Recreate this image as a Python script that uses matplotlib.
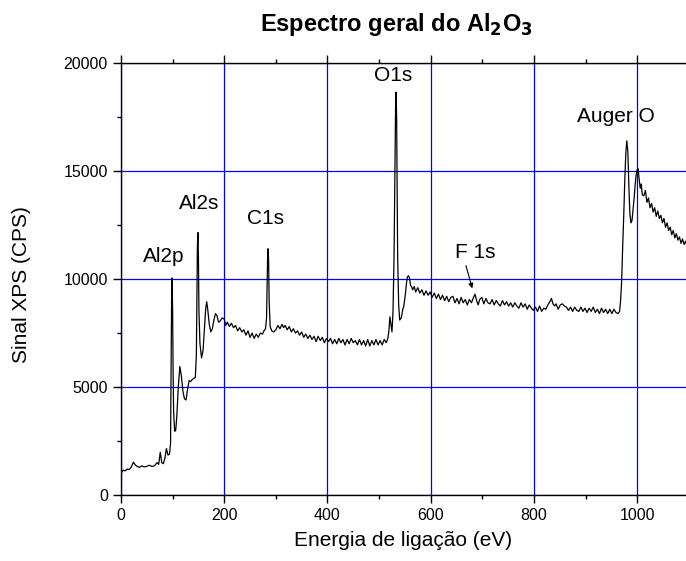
import matplotlib
matplotlib.use("Agg")
import matplotlib.pyplot as plt
from matplotlib.ticker import MultipleLocator

plt.rcParams['font.family'] = ['Liberation Sans', 'DejaVu Sans']

# Espectro XPS (energia em eV, sinal em CPS)
energia = [
    0, 4, 8, 12, 16, 20, 24, 28, 32, 36, 40, 45, 50, 55, 60, 65, 70, 73, 76, 79,
    82, 85, 88, 91, 94, 96, 97, 98, 99, 100, 101, 102, 104, 106, 108, 111, 114, 117, 120, 123,
    126, 129, 132, 135, 138, 141, 144, 146, 147, 148, 149, 150, 151, 153, 156, 159, 162, 164, 166, 168,
    171, 174, 177, 180, 183, 186, 189, 192, 196, 200, 203, 206, 210, 214, 218, 222, 226, 230, 234, 238,
    242, 246, 250, 254, 258, 262, 266, 270, 274, 277, 280, 282, 283, 284, 285, 286, 287, 289, 292, 296,
    300, 304, 308, 312, 315, 318, 322, 326, 330, 334, 338, 342, 346, 350, 354, 358, 362, 366, 370, 374,
    378, 382, 386, 390, 394, 398, 402, 406, 410, 414, 418, 422, 426, 430, 434, 438, 442, 446, 450, 454,
    458, 462, 466, 470, 474, 478, 482, 486, 490, 494, 498, 502, 506, 510, 514, 517, 519, 521, 523, 525,
    527, 529, 531, 532, 533, 534, 535, 536, 538, 540, 543, 546, 548, 551, 553, 555, 557, 559, 561, 563,
    565, 568, 571, 575, 579, 583, 587, 591, 595, 599, 603, 607, 611, 615, 619, 623, 627, 631, 635, 639,
    643, 647, 651, 655, 659, 663, 667, 671, 675, 679, 683, 686, 689, 692, 695, 699, 703, 707, 711, 715,
    719, 723, 727, 731, 735, 739, 743, 747, 751, 755, 759, 763, 767, 771, 775, 779, 783, 787, 791, 795,
    799, 803, 807, 811, 815, 819, 823, 827, 831, 834, 837, 840, 843, 847, 851, 855, 859, 863, 867, 871,
    875, 879, 883, 887, 891, 895, 899, 903, 907, 911, 915, 919, 923, 927, 931, 935, 939, 943, 947, 951,
    955, 959, 963, 966, 968, 970, 972, 974, 976, 978, 980, 982, 984, 986, 988, 990, 992, 994, 996, 998,
    1000, 1002, 1004, 1006, 1008, 1010, 1013, 1016, 1019, 1022, 1025, 1028, 1031, 1034, 1037, 1040, 1043, 1046, 1049, 1052,
    1055, 1058, 1061, 1064, 1067, 1070, 1073, 1076, 1079, 1082, 1085, 1088, 1091, 1094, 1097, 1100,
]
sinal = [
    1000, 1150, 1120, 1200, 1180, 1300, 1520, 1380, 1320, 1280, 1350, 1300, 1330, 1380, 1320, 1360, 1500, 1420, 1980, 1500,
    1450, 1700, 2150, 1850, 1900, 2400, 5500, 9000, 10050, 8500, 5500, 3800, 2950, 3000, 3600, 5000, 5950, 5500, 4800, 4450,
    4400, 4900, 5300, 5250, 5350, 5400, 5450, 6500, 9000, 11500, 12150, 11000, 8500, 7000, 6350, 6700, 7800, 8600, 8950, 8600,
    7900, 7550, 7700, 8100, 8400, 8300, 8000, 8050, 8200, 8150, 7850, 8000, 7800, 7950, 7750, 7850, 7600, 7750, 7550, 7650,
    7400, 7600, 7300, 7500, 7250, 7450, 7300, 7500, 7450, 7600, 7700, 8200, 9500, 11000, 11400, 10800, 9000, 7800, 7600, 7550,
    7650, 7850, 7700, 7900, 7750, 7850, 7650, 7800, 7550, 7700, 7500, 7600, 7400, 7550, 7300, 7450, 7250, 7400, 7200, 7350,
    7100, 7350, 7150, 7300, 7050, 7250, 7100, 7250, 7000, 7200, 7000, 7250, 7050, 7200, 6950, 7200, 7000, 7250, 7050, 7150,
    6950, 7200, 6950, 7150, 6900, 7200, 6900, 7150, 6950, 7200, 6950, 7150, 6950, 7200, 7050, 7250, 7600, 8250, 7900, 7550,
    8500, 11000, 15500, 18000, 18650, 17500, 14000, 11000, 8800, 8100, 8200, 8600, 8750, 9300, 9800, 10100, 10150, 10050, 9700, 9650,
    9500, 9650, 9400, 9600, 9350, 9500, 9250, 9450, 9250, 9400, 9150, 9350, 9100, 9300, 9050, 9250, 9000, 9200, 8950, 9150,
    9200, 8900, 9100, 8850, 9150, 8900, 9050, 8800, 9050, 8900, 9150, 9300, 9000, 8800, 9050, 9150, 8850, 9100, 8900, 8850,
    9050, 8800, 9000, 8850, 8750, 9000, 8800, 8950, 8750, 8900, 8700, 8900, 8750, 8650, 8900, 8700, 8850, 8600, 8800, 8650,
    8550, 8700, 8500, 8750, 8500, 8650, 8600, 8800, 8950, 9100, 8850, 8750, 8850, 8600, 8800, 8850, 8750, 8700, 8550, 8700,
    8500, 8700, 8550, 8500, 8700, 8500, 8650, 8450, 8650, 8500, 8700, 8450, 8600, 8400, 8650, 8450, 8600, 8400, 8600, 8400,
    8600, 8450, 8400, 8500, 9000, 9900, 11500, 12900, 14500, 15800, 16400, 15900, 14300, 13000, 12600, 12700, 13200, 13700, 14300, 14800,
    15050, 15100, 14600, 14200, 14400, 13900, 13850, 14100, 13550, 13750, 13300, 13500, 13100, 13300, 12900, 13150, 12800, 12950, 12600, 12800,
    12400, 12600, 12250, 12400, 12050, 12250, 11900, 12100, 11800, 11950, 11650, 11850, 11600, 11750, 11500, 11650,
]

# Rotulos dos picos
picos = ['Al2p', 'Al2s', 'C1s', 'O1s', 'F 1s', 'Auger O']
picos_x = [83, 152, 279, 527, 686, 959]
picos_y = [11040, 13500, 12800, 19420, 11230, 17520]

fig = plt.figure(figsize=(6.86, 5.61), dpi=100)
ax = fig.add_axes([0.1764, 0.1176, 0.8276, 0.7701])

ax.plot(energia, sinal, color='black', lw=0.9)

ax.set_xlim(0, 1100)
ax.set_ylim(0, 20000)
ax.xaxis.set_major_locator(MultipleLocator(200))
ax.xaxis.set_minor_locator(MultipleLocator(100))
ax.yaxis.set_major_locator(MultipleLocator(5000))
ax.yaxis.set_minor_locator(MultipleLocator(2500))
ax.grid(True, which='major', color='blue', lw=0.9)
ax.set_axisbelow(True)

ax.tick_params(which='both', direction='out', top=True, right=False, labelsize=11.5, width=1)
ax.tick_params(which='major', length=6)
ax.tick_params(which='minor', length=3)
ax.spines['right'].set_visible(False)
for s in ['left', 'bottom', 'top']:
    ax.spines[s].set_linewidth(1)

for nome, x, y in zip(picos, picos_x, picos_y):
    ax.text(x, y, nome, fontsize=15, ha='center', va='center')

ax.annotate('', xy=(682, 9440), xytext=(667, 10740),
            arrowprops=dict(arrowstyle='-|>', color='black', lw=0.8, mutation_scale=7))

fig.text(403 / 686, 1 - 540 / 561, 'Energia de ligação (eV)', fontsize=15, ha='center', va='center')
fig.text(22 / 686, 1 - 285 / 561, 'Sinal XPS (CPS)', fontsize=15, ha='center', va='center', rotation=90)
fig.text(396 / 686, 1 - 25 / 561, r'Espectro geral do Al$_\mathbf{2}$O$_\mathbf{3}$', fontsize=17,
         fontweight='bold', ha='center', va='center')

fig.savefig('out.png', dpi=100)
